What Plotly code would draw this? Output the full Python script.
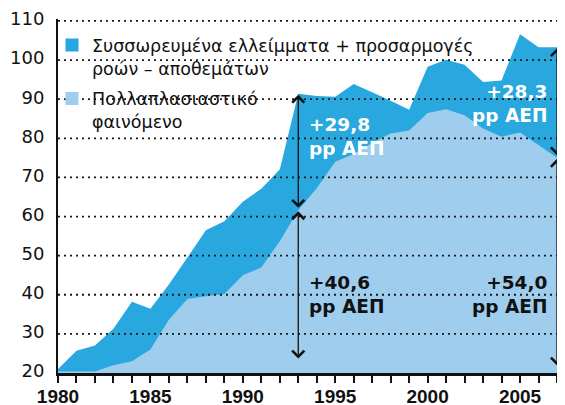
import plotly.graph_objects as go

# ---------------- data ----------------
years = list(range(1980, 2008))
total_debt = [21.0, 25.7, 27.0, 31.3, 38.2, 36.4, 42.6, 49.5, 56.5, 58.8,
              63.8, 67.1, 72.0, 91.4, 90.8, 90.6, 93.9, 91.8, 89.6, 87.3,
              98.3, 100.1, 98.8, 94.4, 94.8, 106.6, 103.3, 103.3]
multiplier = [20.4, 20.4, 20.4, 22.0, 23.0, 26.0, 33.6, 38.9, 39.6, 40.2,
              45.0, 47.0, 53.7, 61.6, 67.2, 74.0, 76.0, 78.8, 81.2, 82.0,
              86.5, 87.4, 85.9, 82.5, 80.4, 81.5, 78.3, 75.0]
y_ticks = [20, 30, 40, 50, 60, 70, 80, 90, 100, 110]
x_ticks = [1980, 1985, 1990, 1995, 2000, 2005]
name_total = "Συσσωρευμένα ελλείμματα + προσαρμογές<br>ροών – αποθεμάτων"
name_mult = "Πολλαπλασιαστικό<br>φαινόμενο"
marked_years = [1993, 2007]

DARK = "#29a8e0"
LIGHT = "#9fcdee"
INK = "#111111"

fig = go.Figure()
fig.add_trace(go.Scatter(x=years, y=total_debt, mode="none", fill="tozeroy",
                         fillcolor=DARK, showlegend=False, hoverinfo="skip"))
fig.add_trace(go.Scatter(x=years, y=multiplier, mode="none", fill="tozeroy",
                         fillcolor=LIGHT, showlegend=False, hoverinfo="skip"))
# legend entries (square swatches)
fig.add_trace(go.Scatter(x=[None], y=[None], mode="markers", name=name_total,
                         legendgroup="a",
                         marker=dict(symbol="square", size=13, color=DARK)))
fig.add_trace(go.Scatter(x=[None], y=[None], mode="markers", name=name_mult,
                         legendgroup="b",
                         marker=dict(symbol="square", size=13, color=LIGHT)))

# dotted gridlines drawn above the areas
for v in y_ticks[1:]:
    fig.add_shape(type="line", xref="paper", yref="y", x0=0, x1=1, y0=v, y1=v,
                  layer="above", line=dict(color="#1a1a1a", width=1.8, dash="2px,4px"))

def fmt(v):
    return ("%+.1f" % v).replace(".", ",")

base = total_debt[0]
arrow_common = dict(xref="x", yref="y", axref="x", ayref="y", showarrow=True,
                    text="", arrowhead=4, startarrowhead=4, arrowside="end+start",
                    arrowsize=1.8, startarrowsize=1.8, arrowwidth=1.3,
                    arrowcolor=INK)
label_font = dict(family="DejaVu Sans", size=18.5)
for yr in marked_years:
    i = years.index(yr)
    lo, hi = multiplier[i], total_debt[i]
    fig.add_annotation(x=yr, y=lo, ax=yr, ay=base, standoff=1,
                       startstandoff=(9 if yr == 1993 else 2), **arrow_common)
    fig.add_annotation(x=yr, y=hi, ax=yr, ay=lo, standoff=1, startstandoff=1,
                       **arrow_common)

i93, i07 = years.index(1993), years.index(2007)
texts = [
    (1993, 80.4, total_debt[i93] - multiplier[i93], "white", "left", 9),
    (1993, 40.0, multiplier[i93] - base, INK, "left", 9),
    (2007, 40.0, multiplier[i07] - base, INK, "right", -8),
    (2007, 89.0, total_debt[i07] - multiplier[i07], "white", "right", -8),
]
for xv, yv, d, col, side, shift in texts:
    fig.add_annotation(x=xv, y=yv, xref="x", yref="y", showarrow=False,
                       text="<b>%s<br>pp ΑΕΠ</b>" % fmt(d), xanchor=side,
                       yanchor="middle", align=side, xshift=shift,
                       font=dict(color=col, **label_font))

# the page body keeps an 8px margin, so the figure is sized to fill the rest
fig.update_layout(
    template="none",
    width=557, height=397,
    margin=dict(l=50, r=8, t=10.5, b=32, autoexpand=False),
    paper_bgcolor="white", plot_bgcolor="white",
    showlegend=True,
    legend=dict(x=-0.012, y=0.977, xanchor="left", yanchor="top",
                bgcolor="rgba(0,0,0,0)", borderwidth=0,
                font=dict(family="DejaVu Sans", size=17.5, color=INK),
                valign="top", traceorder="grouped", tracegroupgap=5),
)
fig.update_xaxes(range=[1980, 2007], tickvals=x_ticks, ticktext=[str(t) for t in x_ticks],
                 automargin=False,
                 showgrid=False, zeroline=False, showline=True, linecolor=INK,
                 linewidth=2.5, ticks="outside", ticklen=7, tickwidth=2,
                 tickcolor=INK, ticklabelstandoff=-3, ticklabeloverflow="allow",
                 tickfont=dict(family="Liberation Sans", size=19, color=INK, weight="bold"),
                 minor=dict(dtick=1, ticks="outside", ticklen=7, tickwidth=2, tickcolor=INK,
                            showgrid=False))
fig.update_yaxes(range=[20, 110.5], tickvals=y_ticks, showgrid=False, zeroline=False,
                 automargin=False,
                 showline=True, linecolor=INK, linewidth=2, ticks="",
                 ticklabelstandoff=8, ticklabelshift=-2, ticklabeloverflow="allow",
                 tickfont=dict(family="DejaVu Sans", size=18, color=INK))

fig.write_html("out.html")
